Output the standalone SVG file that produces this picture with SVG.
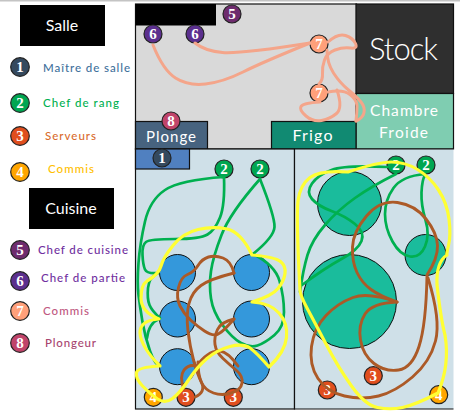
<svg xmlns="http://www.w3.org/2000/svg" width="460" height="414" viewBox="0 0 460 414">
<style>
text{font-family:"Lato","Open Sans","Liberation Sans",sans-serif}
.room{stroke:#111;stroke-width:1.2}
.w{fill:#fff;text-anchor:middle}
.leg{font-size:11.5px;font-weight:500}
.b circle{stroke:#222;stroke-width:1.2}
.b text{font-family:"Liberation Serif",serif;font-size:15px;font-weight:700;fill:#fff;text-anchor:middle}
.tb{fill:#3498db;stroke:#111;stroke-width:1}
.tg{fill:#1abc9c;stroke:#111;stroke-width:1}
#connectors path{fill:none;stroke-linecap:round;stroke-linejoin:round}
.s{stroke:#f4a58a;stroke-width:3}
.g{stroke:#00b050;stroke-width:2.7}
.y{stroke:#ffff33;stroke-width:3.2}
.r{stroke:#ac5a27;stroke-width:2.9}
</style>
<rect width="460" height="414" fill="#fff"/>
<rect width="460" height="1.5" fill="#c4c4c4"/>
<g id="salle-title"><rect x="20" y="5" width="85" height="41" fill="#000"/><text class="w" x="62" y="31" font-size="16">Salle</text></g>
<g id="cuisine-title"><rect x="29" y="188" width="85" height="41" fill="#000"/><text class="w" x="71" y="214" font-size="16">Cuisine</text></g>
<g id="legend-labels" class="leg">
<text x="43" y="72" fill="#41719c" textLength="87">Maître de salle</text>
<text x="43" y="107" fill="#00b050" textLength="76">Chef de rang</text>
<text x="45" y="140" fill="#d96b2c" textLength="51">Serveurs</text>
<text x="48" y="173" fill="#ffc000" textLength="46">Commis</text>
<text x="38" y="254" fill="#7030a0" textLength="90">Chef de cuisine</text>
<text x="41" y="282" fill="#7030a0" textLength="84">Chef de partie</text>
<text x="43" y="315" fill="#c0587f" textLength="46">Commis</text>
<text x="45" y="347" fill="#a8456f" textLength="51">Plongeur</text>
</g>
<g id="kitchen"><rect class="room" x="135.5" y="4" width="221" height="145" fill="#d9d9d9"/><rect x="135.5" y="4" width="80.5" height="21.5" fill="#000"/></g>
<g id="stock"><rect class="room" x="356" y="4" width="97.5" height="89.5" fill="#2f2f2f"/><text class="w" x="403.5" y="60" font-size="31" font-weight="300" textLength="69">Stock</text></g>
<g id="chambre"><rect class="room" x="356" y="93.5" width="97.5" height="55.5" fill="#7fcdb1"/><text class="w" x="404" y="116" font-size="15.5" textLength="68">Chambre</text><text class="w" x="403.5" y="138" font-size="15.5" textLength="49">Froide</text></g>
<g id="frigo"><rect class="room" x="271.5" y="121.5" width="84.5" height="27.5" fill="#118a72"/><text class="w" x="312.5" y="141" font-size="16" textLength="40">Frigo</text></g>
<g id="plonge"><rect class="room" x="135.5" y="121.5" width="72" height="27.5" fill="#47637f"/><text class="w" x="171" y="142" font-size="15" textLength="50">Plonge</text></g>
<g id="room-left"><rect class="room" x="135.5" y="149" width="159" height="260" fill="#cfe0e8"/><rect class="room" x="135.5" y="149" width="54" height="20" fill="#5080c0"/></g>
<g id="room-right"><rect x="294.5" y="149" width="159" height="260" fill="#cfe0e8"/><path d="M294.5 149H453.5M294.5 149V409H453.5" fill="none" stroke="#111" stroke-width="1.2"/></g>
<g id="tables">
<circle class="tb" cx="177.5" cy="272.5" r="18"/><circle class="tb" cx="251.5" cy="272.5" r="18"/>
<circle class="tb" cx="177.5" cy="319" r="18"/><circle class="tb" cx="251.5" cy="319" r="18"/>
<circle class="tb" cx="177.5" cy="366.7" r="18"/><circle class="tb" cx="251.5" cy="366.7" r="18"/>
<circle class="tg" cx="349.5" cy="203.5" r="32"/><circle class="tg" cx="349.5" cy="301.5" r="47"/><circle class="tg" cx="425.5" cy="255" r="20.5"/>
</g>
<g id="badges" class="b">
<g id="l1"><circle cx="20" cy="67" r="9.3" fill="#34495e"/><text x="20" y="72">1</text></g>
<g id="l2"><circle cx="20" cy="103" r="9.3" fill="#00a651"/><text x="20" y="108">2</text></g>
<g id="l3"><circle cx="20" cy="136" r="9.3" fill="#e04e1e"/><text x="20" y="141">3</text></g>
<g id="l4"><circle cx="20" cy="172" r="9.3" fill="#ffa500"/><text x="20" y="177">4</text></g>
<g id="l5"><circle cx="20" cy="250" r="9.3" fill="#6e2c6e"/><text x="20" y="255">5</text></g>
<g id="l6"><circle cx="20" cy="281" r="9.3" fill="#5b2f8e"/><text x="20" y="286">6</text></g>
<g id="l7"><circle cx="20" cy="311" r="9.3" fill="#ffa07a"/><text x="20" y="316">7</text></g>
<g id="l8"><circle cx="20" cy="343" r="9.3" fill="#c0446a"/><text x="20" y="348">8</text></g>
<g id="n5"><circle cx="232" cy="14" r="9" fill="#6e2c6e"/><text x="232" y="19">5</text></g>
<g id="n6a"><circle cx="153" cy="34" r="9" fill="#5b2f8e"/><text x="153" y="39">6</text></g>
<g id="n6b"><circle cx="195" cy="34" r="9" fill="#5b2f8e"/><text x="195" y="39">6</text></g>
<g id="n7a"><circle cx="319" cy="44" r="9" fill="#ffa07a"/><text x="319" y="49">7</text></g>
<g id="n7b"><circle cx="319" cy="93" r="9" fill="#ffa07a"/><text x="319" y="98">7</text></g>
<g id="n8"><circle cx="171" cy="121" r="9" fill="#c0446a"/><text x="171" y="126">8</text></g>
<g id="n1"><circle cx="162" cy="158" r="9" fill="#34495e"/><text x="162" y="163">1</text></g>
<g id="n2a"><circle cx="224" cy="169" r="9" fill="#00a651"/><text x="224" y="174">2</text></g>
<g id="n2b"><circle cx="260" cy="169" r="9" fill="#00a651"/><text x="260" y="174">2</text></g>
<g id="n2c"><circle cx="396" cy="165" r="9" fill="#00a651"/><text x="396" y="170">2</text></g>
<g id="n2d"><circle cx="426" cy="165" r="9" fill="#00a651"/><text x="426" y="170">2</text></g>
<g id="n4a"><circle cx="153.3" cy="397.3" r="9" fill="#ffa500"/><text x="153.3" y="402.3">4</text></g>
<g id="n3a"><circle cx="186" cy="397.3" r="9" fill="#e04e1e"/><text x="186" y="402.3">3</text></g>
<g id="n3b"><circle cx="233.3" cy="397.3" r="9" fill="#e04e1e"/><text x="233.3" y="402.3">3</text></g>
<g id="n3c"><circle cx="373.3" cy="375.7" r="9" fill="#e04e1e"/><text x="373.3" y="380.7">3</text></g>
<g id="n3d"><circle cx="327.3" cy="390" r="9" fill="#e04e1e"/><text x="327.3" y="395">3</text></g>
<g id="n4b"><circle cx="438.7" cy="394.7" r="9" fill="#ffa500"/><text x="438.7" y="399.7">4</text></g>
</g>
<g id="connectors">
<path class="s" d="M153 45Q163 70 175.5 78T205.5 84T243 72T310 43"/>
<path class="s" d="M195 43Q205 51 222.5 52.5T310 43"/>
<path class="s" d="M328 42Q338 33 345.5 35.5T355.5 43.5T350.5 48T335 50T324.5 60T322.5 73.5T319 84"/>
<path class="s" d="M327 50Q327 63 333.5 73T348.5 90T361 102T364 112.5T356 121"/>
<path class="s" d="M328 92Q343 89 350 94.5T357 106T356 121"/>
<path class="s" d="M337 90Q343 108 336.5 113.5T321.5 120.5T306 116T301 106.5T320 102"/>
<path class="g" d="M224 177Q180 180 165 190T145 221.5T138.5 263T138.5 295T142.5 322T150 351T160 366"/>
<path class="g" d="M224 177Q225 205 220 217.5T207.5 234.5T175 239T146 242T142.5 255T145 269.5T158 273"/>
<path class="g" d="M158 273Q149 277 148 288T149.5 305T160 318"/>
<path class="g" d="M159 319Q149 323 147 338"/>
<path class="g" d="M260 179Q230 213 221.5 235T211 271T211 298.5T222.5 325T241 343T257.5 345.5T274.5 335T284 312T279.5 281T253 254"/>
<path class="g" d="M260 179Q275 217 274.5 227T253 254"/>
<path class="g" d="M396 174Q372 186 355 198T325 225T307.5 255T300 292"/>
<path class="g" d="M387 167Q345 165 331.5 170T312 183.5T312 199T331.5 211T355 224T361.5 241T341.5 259T302 285"/>
<path class="g" d="M425 174Q402 176 393.5 188T385 214T392.5 241.5T410 256.5T425 246.5T425.5 220T421.5 192.5T425 175"/>
<path class="r" d="M234 273Q231 261 223 258T208.5 257T198 265.5T187.5 274.5T178.5 287.5T180 306T190.5 320T204.5 331T217 334.5T234 319"/>
<path class="r" d="M234 273Q210 279 201 285.5T189 303.5T188 331T193.5 360T201.5 382.5T195 397"/>
<path class="r" d="M234 319Q221 322 217.5 329.5T215 344.5T223 358.5T236.5 370.5T242 383T231.5 393T213.5 393T201.5 382.5T198 362"/>
<path class="r" d="M184 389Q179 377 184 370Q190 363 198 367"/>
<path class="r" d="M196 367Q208 350 220 351Q228 352 238 366"/>
<path class="r" d="M397 302Q380 296 371 289.5T357 272.5T352.5 247T366.5 216T397.5 202.5T426 219T437.5 245.5T427 275"/>
<path class="r" d="M427 276Q426 325 419 346.5T398.5 370T374 363.5T360.5 340T365 314T397 302"/>
<path class="r" d="M428 278Q441 320 435.5 341T412.5 377T378.5 396T344.5 396T318 378.5T311.5 346.5T326 315.5T353 297.5T397 302"/>
<path class="y" d="M252 255Q241 232 227 229T198 229.5T173 245.5T161 266T147 281Q141 285 141 298Q141 312 159 319Q140 320 140 333Q141 347 160 366Q138 367 136.5 372.5T142.5 386T157.5 399T172.5 398.5T188.5 380T207 358.5T230 346.5T250 348T269 367Q285 352 286.5 337.5T279 313T252 302Q272 296 278 288.5T285 273.5T280.5 261.5T252 255Z"/>
<path class="y" d="M348 172Q378 162 391.5 162T417.5 169.5T438.5 190T449 219T448.5 245.5T447 255Q436 262 437 285Q441 320 445 335Q450 365 438 393Q415 405 402.5 407.5T377.5 407.5T351.5 386T326.5 345T307.5 309T300 290Q296 217 298 201T310 177.5T348 172Z"/>
</g>
</svg>
